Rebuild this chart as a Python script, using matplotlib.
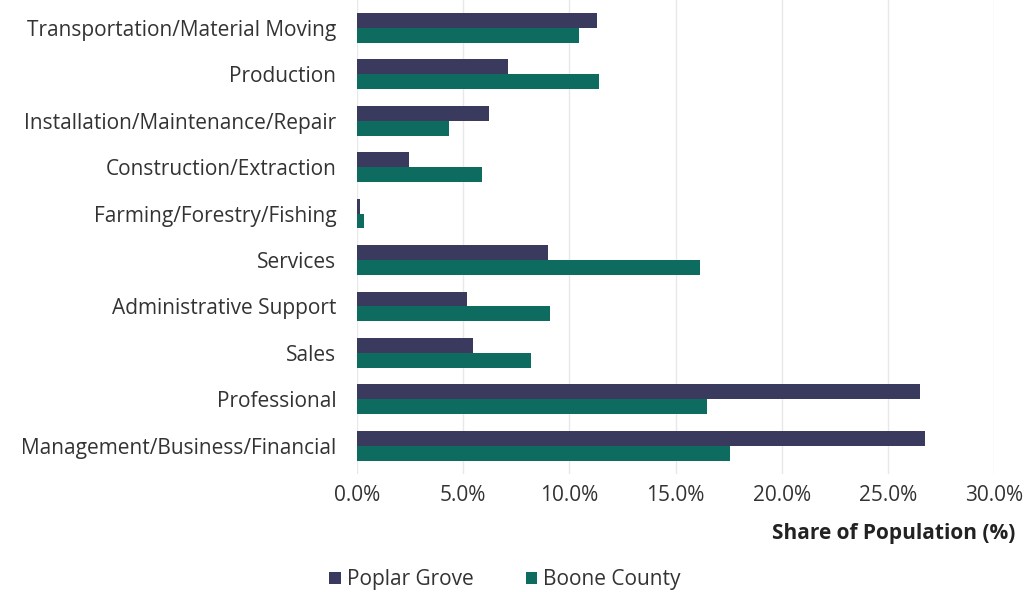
import matplotlib.pyplot as plt
import numpy as np
from matplotlib.ticker import FuncFormatter

plt.rcParams['font.family'] = ['Open Sans', 'DejaVu Sans']

categories = ['Management/Business/Financial', 'Professional', 'Sales',
              'Administrative Support', 'Services', 'Farming/Forestry/Fishing',
              'Construction/Extraction', 'Installation/Maintenance/Repair',
              'Production', 'Transportation/Material Moving']
poplar_grove = [26.75, 26.5, 5.45, 5.2, 9.0, 0.15, 2.45, 6.2, 7.1, 11.3]
boone_county = [17.55, 16.5, 8.2, 9.1, 16.15, 0.35, 5.9, 4.35, 11.4, 10.45]

pg_color = '#3a3a5e'
bc_color = '#0d6b5f'
text_color = '#333333'
fs = 15

fig = plt.figure(figsize=(10.26, 5.92), dpi=100)
ax = fig.add_axes([0.348, 0.2, 0.621, 0.8])

y = np.arange(len(categories))
h = 0.32
ax.barh(y + h / 2, poplar_grove, height=h, color=pg_color, label='Poplar Grove', zorder=3)
ax.barh(y - h / 2, boone_county, height=h, color=bc_color, label='Boone County', zorder=3)

ax.set_xlim(0, 30)
ax.set_ylim(-0.6, 9.6)
ax.set_xticks(np.arange(0, 31, 5))
ax.xaxis.set_major_formatter(FuncFormatter(lambda v, p: f'{v:.1f}%'))
ax.set_yticks(y)
ax.set_yticklabels(categories)
ax.tick_params(axis='both', length=0, labelsize=fs, colors=text_color)
ax.tick_params(axis='x', pad=8)
ax.tick_params(axis='y', pad=15)
ax.grid(axis='x', color='#e8e8e8', linewidth=1, zorder=0)
for s in ax.spines.values():
    s.set_visible(False)

fig.text(1015 / 1026, 1 - 534 / 592, 'Share of Population (%)', ha='right', va='center',
         fontsize=fs, fontweight='bold', color='#222222')

fig.legend(loc='center', bbox_to_anchor=(505 / 1026, 1 - 580 / 592), ncol=2, frameon=False,
           fontsize=fs, handlelength=0.55, handleheight=0.55, handletextpad=0.3,
           columnspacing=2.5, labelcolor=text_color)

fig.savefig('out.png', dpi=100)
